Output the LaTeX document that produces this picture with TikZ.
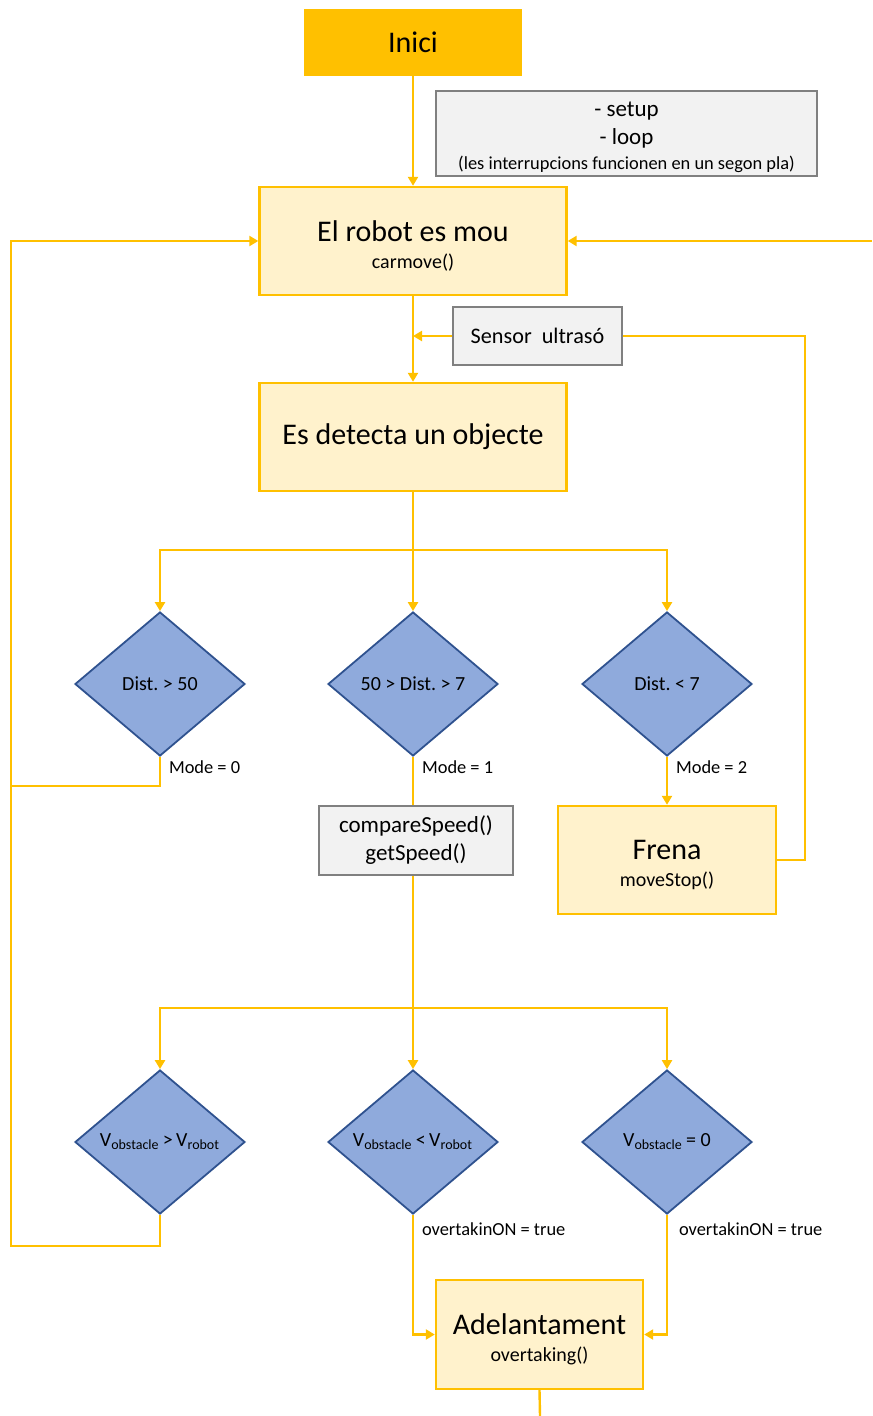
\documentclass[tikz,border=0pt]{standalone}
\usepackage{fontspec}
\setmainfont{Carlito}
\frenchspacing
\usetikzlibrary{arrows.meta,shapes.geometric}
\definecolor{or}{HTML}{FFC000}
\definecolor{orclar}{HTML}{FFF2CC}
\definecolor{gris}{HTML}{F2F2F2}
\definecolor{grisvora}{HTML}{808080}
\definecolor{blau}{HTML}{8FAADC}
\definecolor{blauvora}{HTML}{2F528F}
\newcommand{\titol}[2]{{\fontsize{15}{18}\selectfont\rule{0pt}{15pt}#1}\\[1.5pt]{\fontsize{10}{12}\selectfont #2}}
\begin{document}
\begin{tikzpicture}[x=0.5pt, y=-0.5pt,
    >={Triangle[length=4.5pt,width=5pt]},
    fletxa/.style={or, line width=1.2pt},
    caixa/.style={draw=or, fill=orclar, line width=1.2pt, align=center, inner sep=0pt,
      minimum width=153.5pt, minimum height=54pt},
    grisa/.style={draw=grisvora, fill=gris, line width=1.2pt, align=center, inner sep=0pt},
    decisio/.style={diamond, draw=blauvora, fill=blau, line width=0.9pt, inner sep=0pt,
      minimum width=85pt, minimum height=72pt, font=\fontsize{10}{12}\selectfont},
    etiqueta/.style={anchor=west, font=\fontsize{9.2}{11}\selectfont}]
  \useasboundingbox (0,0) rectangle (872,1416);
  % 开始
  \node[fill=or, minimum width=109pt, minimum height=33.5pt, inner sep=0pt,
    font=\fontsize{15}{18}\selectfont] (inici) at (413,42.5) {Inici};
  \node[grisa, minimum width=190.5pt, minimum height=42.5pt,
    font=\fontsize{11.5}{14}\selectfont] (setup) at (626.5,133.5)
    {\rule{0pt}{11pt}- setup\\- loop\\[-1.5pt]{\fontsize{9.2}{11}\selectfont(les interrupcions funcionen en un segon pla)}};
  % 主框
  \node[caixa] (robot) at (413,241) {\titol{El robot es mou}{carmove()}};
  \node[grisa, minimum width=84.5pt, minimum height=29pt,
    font=\fontsize{11.1}{13}\selectfont] (sensor) at (537.5,336) {Sensor\ \ ultrasó};
  \node[caixa, font=\fontsize{15}{18}\selectfont] (detecta) at (413,437) {Es detecta un objecte};
  % 距离判断
  \node[decisio] (d1) at (160,684) {Dist. > 50};
  \node[decisio] (d2) at (413,684) {50 > Dist. > 7};
  \node[decisio] (d3) at (667,684) {Dist. < 7};
  \node[grisa, minimum width=97pt, minimum height=34.5pt,
    font=\fontsize{11.5}{14}\selectfont] (compara) at (416,840.5) {compareSpeed()\\getSpeed()};
  \node[caixa, minimum width=109pt] (frena) at (667,860) {\titol{Frena}{moveStop()}};
  % 速度判断
  \node[decisio] (d4) at (160,1142) {V\textsubscript{obstacle}\,>\,V\textsubscript{robot}};
  \node[decisio] (d5) at (413,1142) {V\textsubscript{obstacle}\,<\,V\textsubscript{robot}};
  \node[decisio] (d6) at (667,1142) {V\textsubscript{obstacle}\,= 0};
  \node[caixa, minimum width=103.5pt, minimum height=54.5pt] (adel) at (539.5,1334.5)
    {\titol{Adelantament}{overtaking()}};
  % 标注
  \node[etiqueta] (m0) at (162,767) {Mode = 0};
  \node[etiqueta] (m1) at (415,767) {Mode = 1};
  \node[etiqueta] (m2) at (669,767) {Mode = 2};
  \node[etiqueta] (ov1) at (415,1229) {overtakinON = true};
  \node[etiqueta] (ov2) at (672,1229) {overtakinON = true};
  % 连线点
  \coordinate (esq) at (11,241);
  \coordinate (dre) at (872,241);
  \coordinate (baix) at (11,1246);
  \coordinate (e0) at (11,786);
  \coordinate (sd) at (805,336);
  \coordinate (j1) at (413,550);
  \coordinate (j2) at (413,1008);
  \coordinate (fi) at (540,1416);
  % 连线
  \draw[fletxa, ->] (inici) -- (robot);
  \draw[fletxa, ->] (robot) -- (detecta);
  \draw[fletxa, ->] (sensor.west) -- (sensor.west -| robot.south);
  \draw[fletxa] (frena.east) -| (sd) -- (sensor.east);
  \draw[fletxa, ->] (dre) -- (robot.east);
  \draw[fletxa, ->] (d4.south) |- (baix) -- (esq) -- (robot.west);
  \draw[fletxa] (d1.south) |- (e0);
  \draw[fletxa] (detecta.south) -- (j1);
  \foreach \d in {d1,d2,d3} {
      \draw[fletxa, ->] (j1) -| (\d.north);
  }
  \draw[fletxa] (d2.south) -- (d2.south |- compara.north);
  \draw[fletxa, ->] (d3.south) -- (frena.north);
  \draw[fletxa] (compara.south -| j2) -- (j2);
  \foreach \d in {d4,d5,d6} {
      \draw[fletxa, ->] (j2) -| (\d.north);
  }
  \draw[fletxa, ->] (d5.south) |- (adel.west);
  \draw[fletxa, ->] (d6.south) |- (adel.east);
  \draw[fletxa] (adel.south) -- (fi);
\end{tikzpicture}
\end{document}
